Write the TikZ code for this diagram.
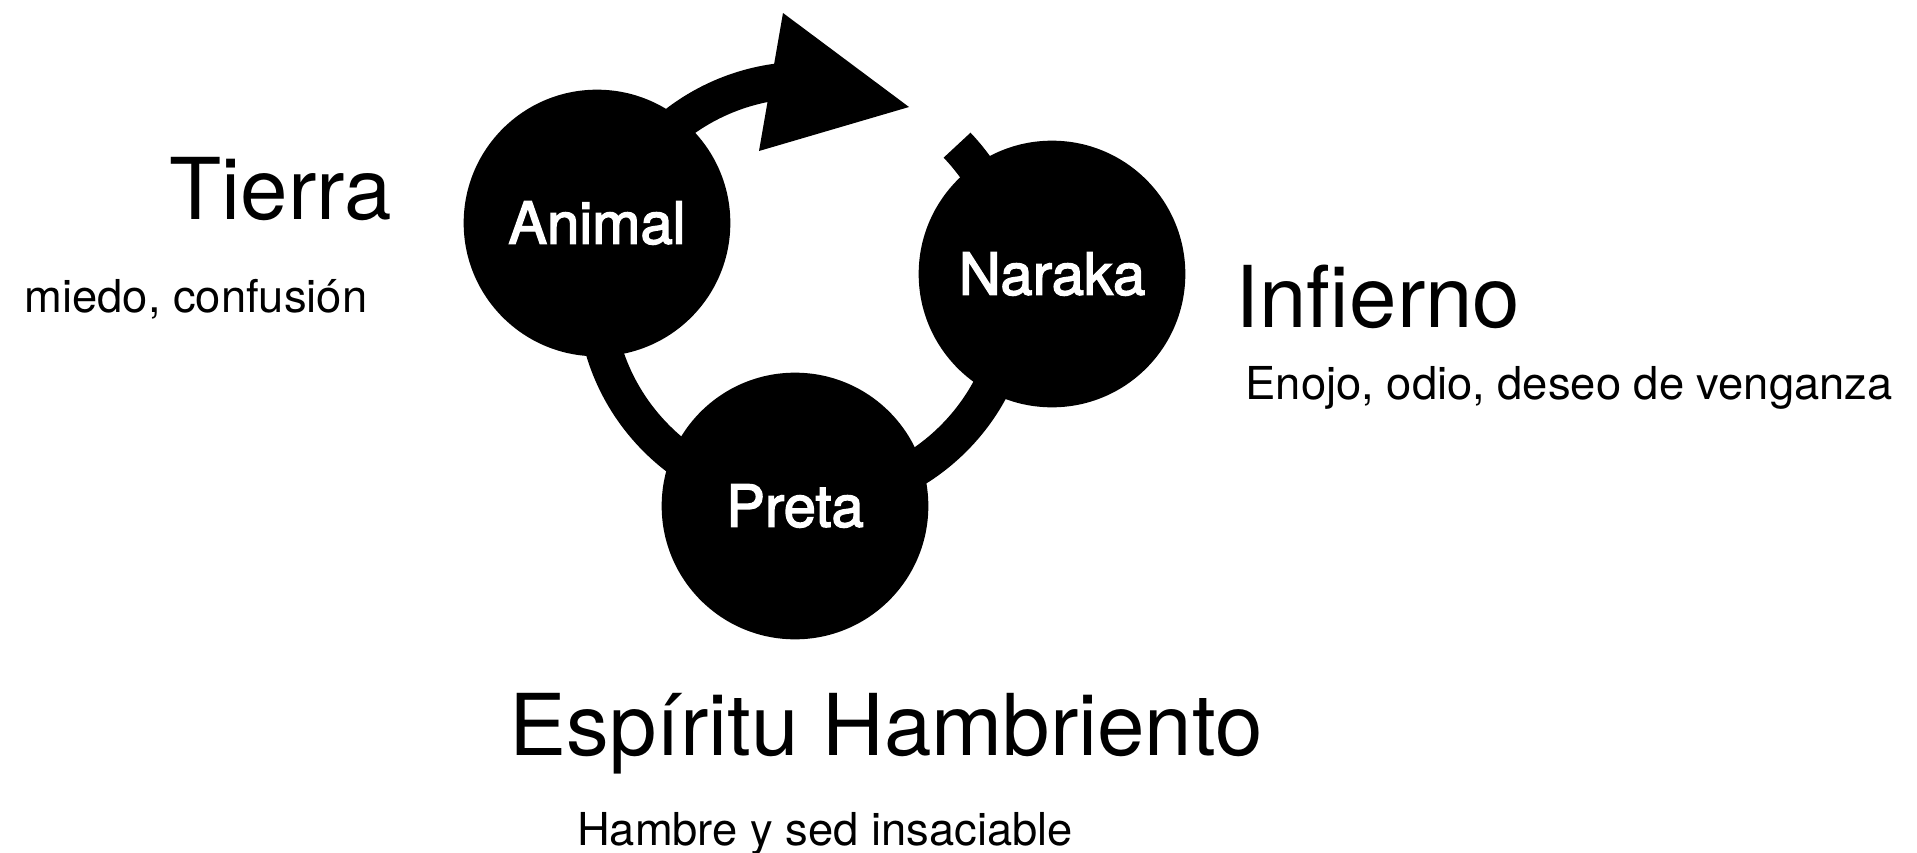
\documentclass[tikz,border=0pt]{standalone}
\usepackage{fontspec}
\setmainfont{TeX Gyre Heros}
\newfontfamily\realmfont[FakeBold=2.5]{TeX Gyre Heros}
\tikzset{
  realm/.style={circle, fill=black, text=white, inner sep=0pt, minimum size=200pt,
    font=\realmfont\fontsize{43.5}{43.5}\selectfont},
  bigtitle/.style={anchor=base, font=\fontsize{64}{64}\selectfont},
  subtitle/.style={anchor=base, font=\fontsize{34}{34}\selectfont},
  ring/.style={line width=27.5pt, draw=black}
}
\begin{document}
\begin{tikzpicture}[x=0.75pt,y=0.75pt,yscale=-1,xscale=1]
        \useasboundingbox (0,0) rectangle (1917,853);

        %Curve Lines [cycle]
        \coordinate (hub) at (805,290);
        \draw [ring] (hub) ++(-43.6:210) coordinate (ringstart)
            arc [start angle=-43.6, end angle=262.5, radius=157.5pt];
        %Arrow head
        \coordinate (tiptop) at (783,13);
        \coordinate (tip) at (909,107);
        \coordinate (tipbot) at (759,151);
        \fill (tiptop) -- (tip) -- (tipbot) -- cycle;

        %Shape: Circle
        \node [realm] (animal) at (597,223) {Animal};
        %Shape: Circle
        \node [realm] (naraka) at (1052,274) {Naraka};
        %Shape: Circle
        \node [realm] (preta) at (795,506) {Preta};

        % Text Node
        \node [bigtitle] (tierra) at (281,219) {Tierra};
        % Text Node
        \node [subtitle] (tierrasub) at (196,312) {miedo, confusión};
        % Text Node
        \node [bigtitle] (infierno) at (1378,327) {Infierno};
        % Text Node
        \node [subtitle] (infiernosub) at (1569,399) {Enojo, odio, deseo de venganza};
        % Text Node
        \node [bigtitle] (espiritu) at (886,755) {Espíritu Hambriento};
        % Text Node
        \node [subtitle] (espiritusub) at (825,845) {Hambre y sed insaciable};

\end{tikzpicture}
\end{document}
